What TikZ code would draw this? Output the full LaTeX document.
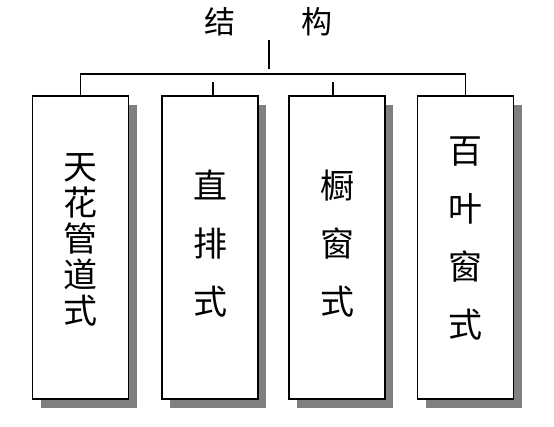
\documentclass[tikz,border=0pt]{standalone}
\usepackage{fontspec}
\newfontfamily\cjk{Noto Sans CJK SC}
\usetikzlibrary{positioning, shadows}

\begin{document}
\begin{tikzpicture}[x=1pt, y=-1pt,
  cbox/.style={draw, line width=1.5pt, fill=white, minimum width=96pt, minimum height=303pt, inner sep=0pt,
    drop shadow={shadow xshift=8pt, shadow yshift=-9pt, fill=black!50, opacity=1}},
  link/.style={line width=1.6pt},
  tight/.style={align=center, font=\cjk\fontsize{34}{36}\selectfont},
  loose/.style={align=center, font=\cjk\fontsize{34}{58}\selectfont}
]
  \useasboundingbox (0,0) rectangle (554,426);
  \node[font=\cjk\fontsize{31}{31}\selectfont] (title) at (268, 22) {结\hspace{66pt}构};
  \coordinate (hub) at (269, 40);

  \node[cbox] (b1) at (80.5, 247.5) {};
  \node[cbox] (b2) at (210, 247.5) {};
  \node[cbox] (b3) at (337, 247.5) {};
  \node[cbox] (b4) at (465.5, 247.5) {};

  \node[tight] (t1) at ([yshift=8pt]b1.center) {天\\花\\管\\道\\式};
  \node[loose] (t2) at ([yshift=4pt]b2.center) {直\\排\\式};
  \node[loose] (t3) at ([yshift=4pt]b3.center) {橱\\窗\\式};
  \node[loose] (t4) at ([yshift=9pt]b4.center) {百\\叶\\窗\\式};

  \draw[link] (hub) -- ++(0, 29);
  \draw[link] (b1.north) -- ++(0, -21) -| (b4.north);
  \draw[link] ([xshift=3pt]b2.north) -- ++(0, -13);
  \draw[link] ([xshift=-4pt]b3.north) -- ++(0, -13);
\end{tikzpicture}
\end{document}
